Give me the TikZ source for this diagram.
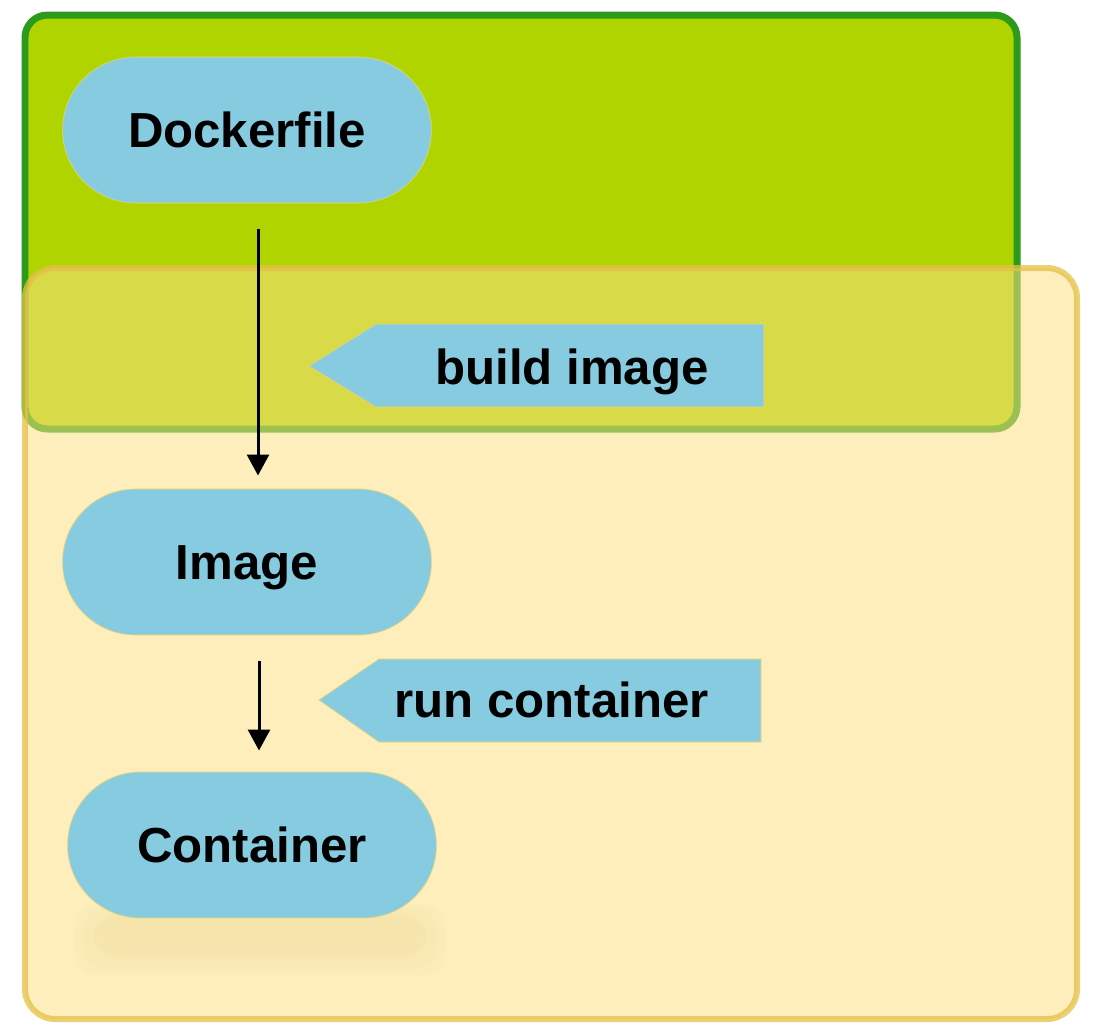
\documentclass[tikz,border=0pt]{standalone}
\usepackage{fontspec}
\setmainfont{Liberation Sans}
\usetikzlibrary{arrows.meta,shapes.misc}

\definecolor{stagegreen}{RGB}{175,212,0}
\definecolor{stagegreenline}{RGB}{44,154,26}
\definecolor{stageyellow}{RGB}{251,224,131}
\definecolor{stageyellowline}{RGB}{228,192,70}
\definecolor{pillblue}{RGB}{135,203,225}
\definecolor{rimyellow}{RGB}{236,214,110}
\definecolor{shadowtone}{RGB}{215,190,110}

\begin{document}
\begin{tikzpicture}[x=0.02cm,y=-0.02cm,
  greenstage/.style={fill=stagegreen,draw=stagegreenline,line width=0.14cm,rounded corners=0.45cm},
  yellowstage/.style={fill=stageyellow,fill opacity=0.55,draw=stageyellowline,draw opacity=0.75,line width=0.12cm,rounded corners=0.6cm},
  pill/.style={rounded rectangle,fill=pillblue,draw=rimyellow,draw opacity=0.6,line width=0.6pt,
    minimum width=7.38cm,minimum height=2.92cm,inner sep=0pt,
    font=\bfseries\fontsize{28}{30}\selectfont,text height=20pt,text depth=0pt},
  tag/.style={fill=pillblue,draw=rimyellow,draw opacity=0.6,line width=0.6pt},
  tagtext/.style={font=\bfseries\fontsize{28}{30}\selectfont,inner sep=0pt,anchor=base east},
  flow/.style={line width=0.06cm,-{Triangle[length=0.42cm,width=0.44cm]}},
  haze/.style={fill=shadowtone,fill opacity=0.04,rounded corners=0.5cm}
]
\path[use as bounding box] (0,0) rectangle (1096,1028);

% build stage and run stage panels
\draw[greenstage] (25,15) rectangle (1017,429);
\draw[yellowstage] (25,268) rectangle (1077,1019);

% soft shadow under the last step
\foreach \d in {0,6,12,18,24}
  \fill[haze] (75+\d,905+\d/2) rectangle (445-\d,975-\d);

% steps
\node[pill] (dockerfile) at (247,130) {Dockerfile};
\node[pill] (image) at (247,562) {Image};
\node[pill] (container) at (252,845) {Container};

% action tags
\draw[tag] (309,366) -- (376,324) -- (764,324) -- (764,407) -- (376,407) -- cycle;
\node[tagtext] (build) at (709,384) {build image};
\draw[tag] (319,700) -- (379,659) -- (761,659) -- (761,742) -- (379,742) -- cycle;
\node[tagtext] (run) at (709,717) {run container};

% transitions
\draw[flow,shorten <=0.5cm,shorten >=0.26cm] (dockerfile.south -| 258,0) -- (image.north -| 258,0);
\draw[flow,shorten <=0.5cm,shorten >=0.42cm] (image.south -| 259,0) -- (container.north -| 259,0);
\end{tikzpicture}
\end{document}
